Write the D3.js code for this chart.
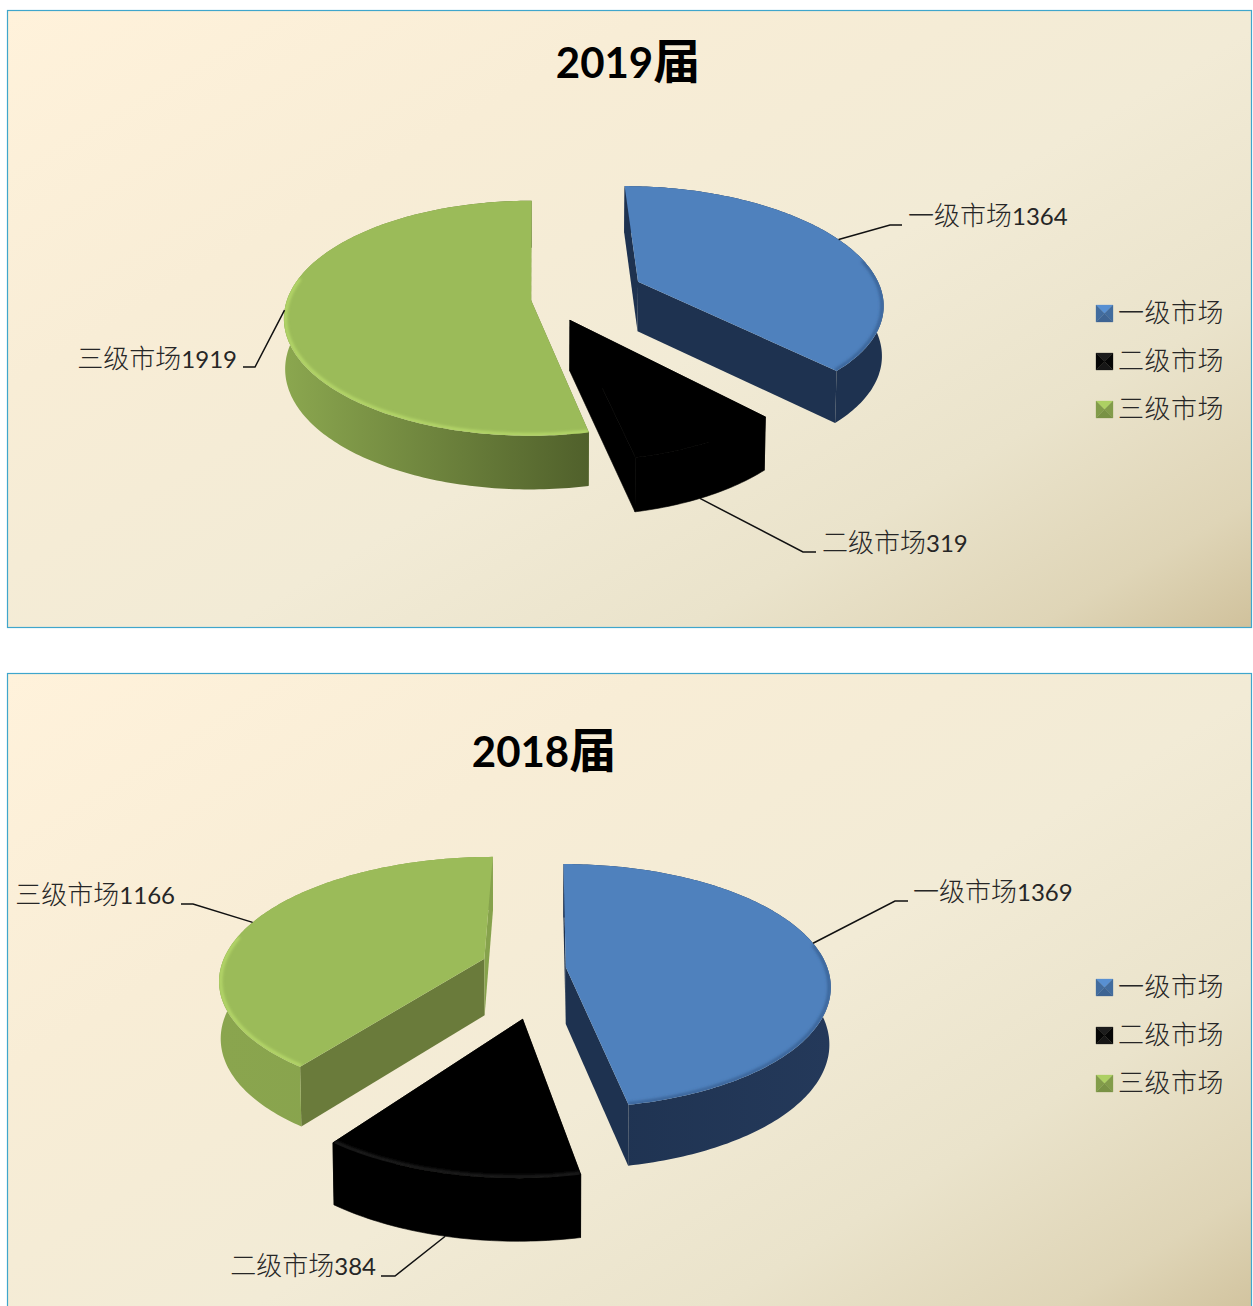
<!DOCTYPE html>
<html><head><meta charset="utf-8">
<script src="https://cdn.jsdelivr.net/npm/d3@7/dist/d3.min.js"></script>
<style>
html,body{margin:0;padding:0;background:#fff;overflow:hidden}
svg{display:block}
text{font-family:Lato,"Noto Sans CJK SC",sans-serif;fill:#262626}
.cjk{font-family:"Noto Sans CJK SC",sans-serif}
</style></head><body>
<svg id="c" width="1253" height="1306"></svg>
<script>
// ---- data ----
const categories = ["一级市场","二级市场","三级市场"];
const values2019 = [1364,319,1919];
const values2018 = [1369,384,1166];
const title2019 = "2019", title2018 = "2018", titleSuffix = "届";

// ---- styles per series ----
const seriesStyle = [
 {top:"#4F81BD", startWall:"#1E3250", endWall:"#1E3250"},
 {top:"#000000", startWall:"#000000", endWall:"#000000"},
 {top:"#9BBB59", startWall:"#6A7B3B", endWall:"#86A24C"}
];

// ---- layout of the two charts ----
const charts = [
 {values:values2019, title:title2019, frame:[7,10,1244,617], titleX:628, titleY:78,
  O:[536,300], radii:[246,238,244], k:.47, p:.155, depth:50, legendY:313,
  explode:[[104.6,-40],[33,42],[-5,0]],
  rim:["#335a8c","#000000","#bde06e"],
  outer:[["#1E3250","#1E3250"],["#000","#000"],["#8BA74F","#50602B"]],
  labels:[
   {angle:66, z:0, pts:[[890,225],[902,225]], x:908, y:216, anchor:"start"},
   {angle:154,z:1, pts:[[803,552],[816,552]], x:822, y:543, anchor:"start"},
   {angle:265,z:0, pts:[[255,367],[243,367]], x:237, y:359, anchor:"end"}]},
 {values:values2018, title:title2018, frame:[7,673,1244,650], titleX:544, titleY:767,
  O:[548,975], radii:[264,258,266], k:.46, p:.155, depth:57, legendY:987,
  explode:[[18,-17],[-24,91],[-65,-36]],
  rim:["#335a8c","#2a2a2a","#bde06e"],
  outer:[["#1E3250","#24395A"],["#000","#000"],["#8AA54E","#86A24C"]],
  labels:[
   {angle:78, z:0, pts:[[895,901],[908,901]], x:913, y:892, anchor:"start"},
   {angle:193,z:1, pts:[[395,1276],[381,1276]], x:376, y:1266, anchor:"end"},
   {angle:289,z:0, pts:[[193,904],[181,904]], x:175, y:895, anchor:"end"}]}
];

const svg = d3.select("#c");
const defs = svg.append("defs");
const bg = defs.append("linearGradient").attr("id","bg")
  .attr("x1","0").attr("y1","0").attr("x2","1.08").attr("y2",".92");
[[0,"#FFF2DB"],[.28,"#F8EDD6"],[.55,"#F2EBD6"],[.75,"#EAE3CB"],[.9,"#DFD5B7"],[1,"#CFC09A"]]
 .forEach(([o,c])=>bg.append("stop").attr("offset",o).attr("stop-color",c));
defs.append("filter").attr("id","soft").attr("x","-10%").attr("y","-10%").attr("width","120%").attr("height","120%")
  .append("feGaussianBlur").attr("stdDeviation",1.5);

const line = d3.line();
const pie = d3.pie().sort(null).startAngle(0).endAngle(2*Math.PI);
const deg = Math.PI/180;

charts.forEach((ch,ci)=>{
  const g = svg.append("g");
  const [fx,fy,fw,fh] = ch.frame;
  g.append("rect").attr("x",fx+.5).attr("y",fy+.5).attr("width",fw).attr("height",fh)
   .attr("fill","url(#bg)").attr("stroke","#3FA6CC").attr("stroke-width",1.2);

  const [Ox,Oy] = ch.O;
  // perspective projection of a point of the pie plane, z=1 for the bottom face
  const project = (X,Y,z,R)=>{
    const w = 1 - ch.p*Y/R, s = z ? .995 : 1;
    return [Ox + s*X/w, Oy + s*ch.k*Y/w + (z ? ch.depth/Math.sqrt(w) : 0)];
  };
  const slices = pie(ch.values);
  const rimPoint = (i,a,z,inset=0)=>{
    const [ex,ey]=ch.explode[i], R=ch.radii[i], r=R-inset;
    return project(ex+r*Math.sin(a), ey-r*Math.cos(a), z, R);
  };
  const arcAngles = sl=>{
    const n=Math.ceil((sl.endAngle-sl.startAngle)/deg);
    return d3.range(n+1).map(j=>sl.startAngle+(sl.endAngle-sl.startAngle)*j/n);
  };

  slices.forEach((sl,i)=>{
    const st=seriesStyle[i], [ex,ey]=ch.explode[i], R=ch.radii[i], gs=g.append("g");
    const as=arcAngles(sl);
    const apexT=project(ex,ey,0,R), apexB=project(ex,ey,1,R);
    const topArc=as.map(a=>rimPoint(i,a,0)), botArc=as.map(a=>rimPoint(i,a,1));
    const wallStroke=i===1?"#000":"none";
    // radial walls
    gs.append("path").attr("d",line([apexT,topArc[0],botArc[0],apexB])+"Z").attr("fill",st.startWall).attr("stroke",wallStroke).attr("stroke-width",.6);
    gs.append("path").attr("d",line([apexT,topArc[topArc.length-1],botArc[botArc.length-1],apexB])+"Z").attr("fill",st.endWall).attr("stroke",wallStroke).attr("stroke-width",.6);
    // outer wall
    const xs=topArc.map(p=>p[0]), gid=`w${ci}${i}`;
    const gr=defs.append("linearGradient").attr("id",gid).attr("gradientUnits","userSpaceOnUse")
      .attr("x1",d3.min(xs)).attr("x2",d3.max(xs)).attr("y1",0).attr("y2",0);
    gr.append("stop").attr("offset",0).attr("stop-color",ch.outer[i][0]);
    gr.append("stop").attr("offset",1).attr("stop-color",ch.outer[i][1]);
    gs.append("path").attr("d",line(topArc.concat(botArc.slice().reverse()))+"Z").attr("fill",`url(#${gid})`).attr("stroke",wallStroke).attr("stroke-width",.6);
    // top face
    const topD=line([apexT].concat(topArc))+"Z";
    gs.append("path").attr("d",topD).attr("fill",st.top).attr("stroke",wallStroke).attr("stroke-width",.6);
    // bevel rim
    const cid=`t${ci}${i}`;
    defs.append("clipPath").attr("id",cid).append("path").attr("d",topD);
    const front=as.filter(a=>Math.cos(a)<.2);
    gs.append("g").attr("clip-path",`url(#${cid})`).append("path")
      .attr("d",line(front.map(a=>rimPoint(i,a,0,1.5))))
      .attr("fill","none").attr("stroke",ch.rim[i]).attr("stroke-width",3).attr("stroke-opacity",.85).attr("filter","url(#soft)");
  });

  // title
  const t=g.append("text").attr("x",ch.titleX).attr("y",ch.titleY).attr("text-anchor","middle")
    .style("font-weight",700).style("fill","#000");
  t.append("tspan").attr("font-size",42).text(ch.title);
  t.append("tspan").attr("class","cjk").attr("font-size",47).text(titleSuffix);

  // data labels and leaders
  ch.labels.forEach((lb,i)=>{
    const start=rimPoint(i,lb.angle*deg,lb.z);
    g.append("path").attr("d",line([start,...lb.pts])).attr("fill","none").attr("stroke","#111").attr("stroke-width",1.5);
    const tx=g.append("text").attr("x",lb.x).attr("y",lb.y+9).attr("text-anchor",lb.anchor);
    tx.append("tspan").attr("class","cjk").attr("font-size",26).attr("font-weight",300).text(categories[i]);
    tx.append("tspan").attr("font-size",24).text(ch.values[i]);
  });

  // legend
  categories.forEach((c,i)=>{
    const y=ch.legendY+48*i, x=1096, s=17, y0=y-8, cx=x+s/2, cy=y0+s/2;
    const base=d3.color(seriesStyle[i].top);
    const corners=[[x,y0],[x+s,y0],[x+s,y0+s],[x,y0+s]];
    const tones=i===1?["#1c1c1c","#060606","#161616","#060606"]:[base.brighter(.3),base.darker(.5),base.darker(.7),base.darker(.5)];
    corners.forEach((p,j)=>{
      g.append("path").attr("d",line([p,corners[(j+1)%4],[cx,cy]])+"Z").attr("fill",tones[j]).attr("stroke",tones[j]).attr("stroke-width",.3);
    });
    g.append("text").attr("class","cjk").attr("x",1118).attr("y",y+9).attr("font-size",26).attr("font-weight",300)
      .attr("letter-spacing",.5).style("font-family",'"Noto Sans CJK SC",sans-serif').text(c);
  });
});
</script></body></html>
